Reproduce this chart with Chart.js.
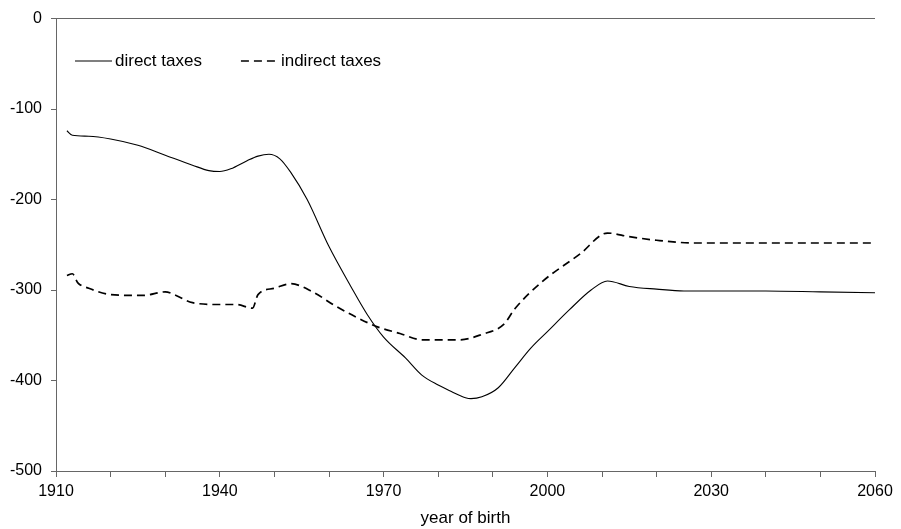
<!DOCTYPE html>
<html>
<head>
<meta charset="utf-8">
<script src="https://cdn.jsdelivr.net/npm/chart.js@4"></script>
<style>
  body { margin: 0; background: #fff; }
  #wrap { width: 901px; height: 529px; }
</style>
</head>
<body>
<div id="wrap"><canvas id="grafico" width="901" height="529"></canvas></div>
<script>
// datos (año de nacimiento, valor)
const directYears = [1912, 1913, 1916, 1920, 1925, 1930, 1935, 1938, 1940, 1942, 1945, 1947, 1949, 1951, 1953, 1956,
  1960, 1964, 1967, 1970, 1974, 1977, 1980, 1982, 1985, 1986, 1988, 1991, 1994, 1997, 2000, 2004, 2008, 2011,
  2015, 2020, 2025, 2030, 2040, 2050, 2060];
const directValues = [-124, -129, -130, -133, -140, -151, -162, -168, -169, -166, -157, -152, -150, -155, -170, -200,
  -252, -296, -327, -352, -375, -394, -405, -411, -419, -420, -418, -408, -386, -364, -346, -322, -300, -290,
  -296, -299, -301, -301, -301, -302, -303];

const indirectYears = [1912, 1913, 1914, 1916, 1920, 1926, 1930, 1932, 1935, 1940, 1943, 1946, 1947, 1950, 1953, 1957,
  1961, 1965, 1969, 1973, 1977, 1984, 1988, 1992, 1994, 1999, 2006, 2011, 2015, 2020, 2027, 2060];
const indirectValues = [-284, -282, -292, -298, -305, -306, -302, -306, -314, -316, -316, -320, -305, -298, -293, -302,
  -317, -330, -341, -348, -355, -355, -349, -338, -321, -291, -260, -237, -241, -245, -248, -248];

const seriesLabels = ['direct taxes', 'indirect taxes'];
const xLabelYears = [1910, 1940, 1970, 2000, 2030, 2060];

const AXIS_COLOR = '#666';
const FONT = 'Liberation Sans, Arial, sans-serif';

function puntos(xs, ys) {
  return xs.map((x, i) => ({ x: x, y: ys[i] }));
}

// leyenda dibujada dentro del area del grafico
const leyendaInterna = {
  id: 'leyendaInterna',
  afterDraw(chart) {
    const ctx = chart.ctx;
    const y = 61;
    let x = 75;
    ctx.save();
    ctx.font = '17px ' + FONT;
    ctx.textBaseline = 'middle';
    chart.data.datasets.forEach(ds => {
      ctx.beginPath();
      ctx.strokeStyle = ds.borderColor;
      ctx.lineWidth = ds.borderWidth;
      ctx.setLineDash(ds.borderDash || []);
      ctx.moveTo(x, y);
      ctx.lineTo(x + 37, y);
      ctx.stroke();
      ctx.setLineDash([]);
      ctx.fillStyle = '#000';
      ctx.fillText(ds.label, x + 40, y);
      x += 40 + ctx.measureText(ds.label).width + 39;
    });
    ctx.restore();
  }
};

new Chart(document.getElementById('grafico').getContext('2d'), {
  type: 'line',
  data: {
    datasets: [
      {
        label: seriesLabels[0],
        data: puntos(directYears, directValues),
        borderColor: '#000',
        borderWidth: 1.1,
        pointRadius: 0,
        cubicInterpolationMode: 'monotone',
        fill: false
      },
      {
        label: seriesLabels[1],
        data: puntos(indirectYears, indirectValues),
        borderColor: '#000',
        borderWidth: 1.7,
        borderDash: [8, 5],
        pointRadius: 0,
        cubicInterpolationMode: 'monotone',
        fill: false
      }
    ]
  },
  options: {
    responsive: false,
    animation: false,
    layout: { padding: { top: 15, right: 26, left: 0, bottom: 0 } },
    plugins: {
      legend: { display: false },
      tooltip: { enabled: false }
    },
    scales: {
      x: {
        type: 'linear',
        min: 1910,
        max: 2060,
        afterFit: s => { s.height = 58; },
        border: { display: true, color: AXIS_COLOR, width: 1 },
        grid: { drawOnChartArea: false, drawTicks: true, tickLength: 6, color: AXIS_COLOR },
        ticks: {
          stepSize: 10,
          autoSkip: false,
          maxRotation: 0,
          padding: 5,
          color: '#000',
          font: { family: FONT, size: 16 },
          callback: v => (xLabelYears.includes(v) ? String(v) : '')
        },
        title: {
          display: true,
          text: 'year of birth',
          color: '#000',
          font: { family: FONT, size: 17 },
          padding: { top: 0, bottom: 0 }
        }
      },
      y: {
        min: -500,
        max: 0,
        afterFit: s => { s.width = 56; },
        border: { display: true, color: AXIS_COLOR, width: 1 },
        grid: {
          drawOnChartArea: true,
          drawTicks: true,
          tickLength: 5,
          tickColor: AXIS_COLOR,
          color: c => (c.tick && c.tick.value === 0 ? AXIS_COLOR : 'rgba(0,0,0,0)')
        },
        ticks: {
          stepSize: 100,
          padding: 9,
          color: '#000',
          font: { family: FONT, size: 16 },
          callback: v => String(v)
        }
      }
    }
  },
  plugins: [leyendaInterna]
});
</script>
</body>
</html>
